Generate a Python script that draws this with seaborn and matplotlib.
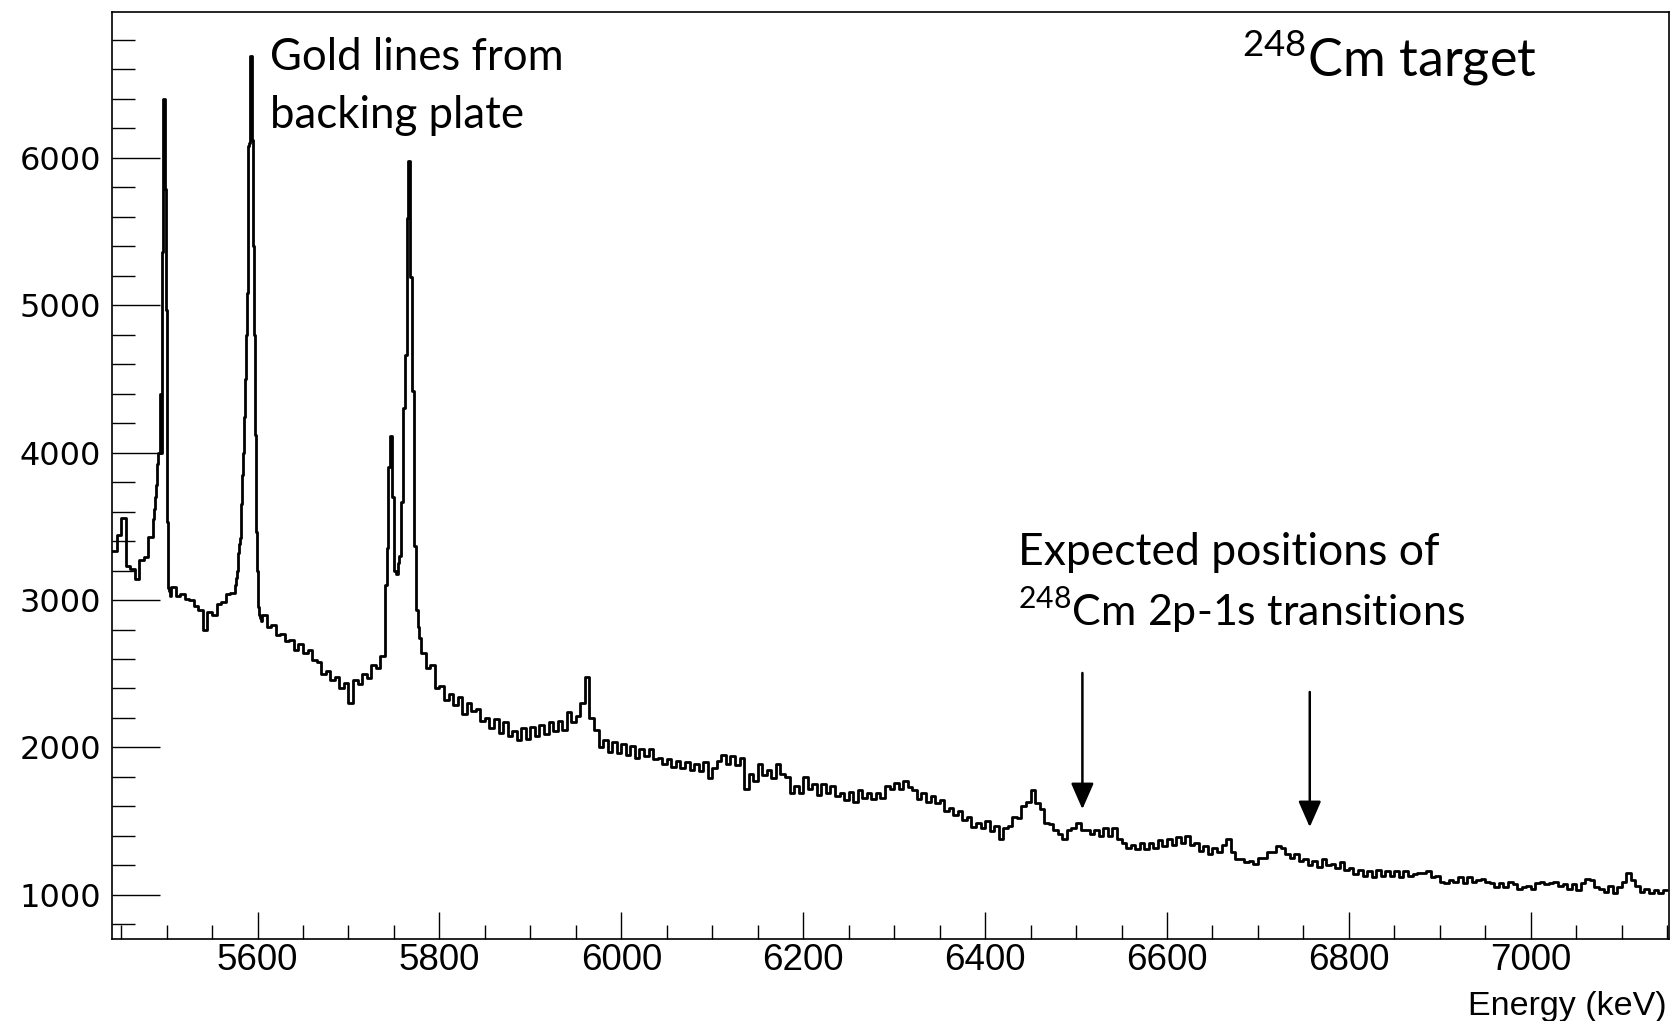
import numpy as np
import pandas as pd
import matplotlib
matplotlib.use("Agg")
import matplotlib.pyplot as plt
import seaborn as sns
from matplotlib import font_manager
from matplotlib.ticker import MultipleLocator, FixedLocator

# ---------------------------------------------------------------------------
# Spectrum data: counts per bin.  Bin widths are finer around the gold lines.
# Each segment: first bin edge (keV), bin width (keV), counts.
# ---------------------------------------------------------------------------
seg1_start, seg1_width = 5440, 5
seg1_counts = [3330, 3440, 3560, 3230, 3210, 3140, 3270, 3290, 3430]

seg2_start, seg2_width = 5485, 1
seg2_counts = [3550, 3620, 3700, 3780, 3850, 3920, 4000, 4000, 4400, 4000,
               5360, 6400, 6400, 5790, 4970, 4030, 3530, 3080, 3060, 3030]

seg3_start, seg3_width = 5505, 5
seg3_counts = [3090, 3030, 3040, 3010, 3000, 2960, 2930, 2800, 2920, 2900,
               2970, 2990, 3040, 3050]

seg4_start, seg4_width = 5575, 1
seg4_counts = [3100, 3150, 3200, 3260, 3320, 3380, 3420, 3650, 3850, 4000,
               4240, 4500, 4800, 5085, 5500, 6080, 6100, 6690, 6690, 6120,
               5400, 4800, 4120, 3465, 3200, 2955, 2950, 2900, 2880, 2860]

seg5_start, seg5_width = 5605, 5
seg5_counts = [2900, 2820, 2830, 2760, 2770, 2720, 2730, 2660, 2700, 2640,
               2660, 2590, 2580, 2500, 2520, 2460, 2480, 2400, 2440, 2300,
               2460, 2430, 2500, 2470, 2560, 2540, 2620]

seg6_start, seg6_width = 5740, 2
seg6_counts = [3100, 3350, 3900, 4110, 3700, 3200, 3180, 3250, 3300, 3665,
               4300, 4660, 5590, 5980, 5190, 4420, 3365, 2934, 2816, 2740]

seg7_start, seg7_width = 5780, 5
seg7_counts = [
    2640, 2540, 2560, 2400, 2420, 2320, 2360, 2290, 2340, 2230,
    2300, 2250, 2260, 2180, 2200, 2130, 2190, 2100, 2170, 2080,
    2110, 2050, 2130, 2060, 2140, 2080, 2150, 2090, 2170, 2110,
    2180, 2120, 2240, 2170, 2210, 2300, 2480, 2200, 2120, 2000,
    2050, 1970, 2040, 1960, 2020, 1950, 2010, 1930, 1990, 1940,
    1990, 1920, 1930, 1890, 1920, 1870, 1910, 1860, 1900, 1850,
    1890, 1840, 1900, 1790, 1860, 1910, 1950, 1890, 1940, 1880,
    1930, 1720, 1820, 1770, 1890, 1810, 1850, 1790, 1890, 1820,
    1800, 1690, 1740, 1690, 1800, 1720, 1750, 1680, 1750, 1690,
    1740, 1670, 1690, 1640, 1700, 1630, 1710, 1660, 1690, 1650,
    1690, 1660, 1740, 1720, 1760, 1720, 1770, 1730, 1710, 1650,
    1690, 1630, 1670, 1620, 1640, 1570, 1590, 1540, 1570, 1510,
    1530, 1460, 1490, 1450, 1500, 1430, 1470, 1380, 1450, 1470,
    1530, 1520, 1600, 1630, 1710, 1620, 1580, 1490, 1480, 1440,
    1410, 1380, 1440, 1450, 1490, 1440, 1440, 1410, 1440, 1400,
    1450, 1400, 1450, 1380, 1350, 1320, 1340, 1310, 1350, 1310,
    1350, 1320, 1370, 1330, 1380, 1340, 1390, 1350, 1400, 1340,
    1350, 1300, 1330, 1280, 1320, 1290, 1340, 1380, 1290, 1240,
    1240, 1220, 1230, 1210, 1250, 1250, 1290, 1290, 1330, 1320,
    1280, 1250, 1280, 1230, 1240, 1200, 1230, 1190, 1240, 1200,
    1210, 1180, 1220, 1170, 1180, 1140, 1170, 1130, 1160, 1120,
    1170, 1130, 1160, 1130, 1160, 1120, 1160, 1130, 1140, 1150,
    1150, 1160, 1120, 1130, 1090, 1080, 1100, 1090, 1120, 1080,
    1120, 1090, 1100, 1110, 1090, 1080, 1050, 1080, 1050, 1090,
    1070, 1040, 1050, 1060, 1040, 1080, 1090, 1070, 1080, 1090,
    1060, 1070, 1040, 1070, 1030, 1080, 1110, 1100, 1050, 1040,
    1020, 1060, 1010, 1050, 1090, 1150, 1100, 1060, 1020, 1040,
    1010, 1030, 1010, 1030,
]

# Marked energies of the expected 2p-1s lines and the arrow extents
arrow_energies = [6507, 6757]
arrow_tops = [2505, 2376]
arrow_tips = [1581, 1459]

x_ticks_major = [5600, 5800, 6000, 6200, 6400, 6600, 6800, 7000]
y_ticks_major = [1000, 2000, 3000, 4000, 5000, 6000]

segments = [
    (seg1_start, seg1_width, seg1_counts),
    (seg2_start, seg2_width, seg2_counts),
    (seg3_start, seg3_width, seg3_counts),
    (seg4_start, seg4_width, seg4_counts),
    (seg5_start, seg5_width, seg5_counts),
    (seg6_start, seg6_width, seg6_counts),
    (seg7_start, seg7_width, seg7_counts),
]

left_edges, counts = [], []
for start, width, vals in segments:
    left_edges.extend(start + width * np.arange(len(vals)))
    counts.extend(vals)
last_start, last_width, last_vals = segments[-1]
edges = np.append(np.asarray(left_edges, float),
                  last_start + last_width * len(last_vals))
# step outline: each bin value held from its left edge to the next edge
step_counts = np.append(np.asarray(counts, float), counts[-1])
spectrum = pd.DataFrame({"energy": edges, "counts": step_counts})


def available(family):
    try:
        font_manager.findfont(font_manager.FontProperties(family=family),
                              fallback_to_default=False)
        return True
    except Exception:
        return False


sns.set_theme(style="white")
plt.rcParams["font.family"] = ["DejaVu Sans"]
note_font = "Lato" if available("Lato") else "DejaVu Sans"
axis_font = "Liberation Sans" if available("Liberation Sans") else "DejaVu Sans"
plt.rcParams["mathtext.fontset"] = "custom"
plt.rcParams["mathtext.rm"] = note_font

W, H = 1672, 1021
fig = plt.figure(figsize=(W / 100, H / 100), dpi=100)
fig.patch.set_facecolor("white")

ax_l, ax_r, ax_t, ax_b = 112, 1669, 12, 939
ax = fig.add_axes([ax_l / W, 1 - ax_b / H, (ax_r - ax_l) / W, (ax_b - ax_t) / H])
ax.set_facecolor("white")

sns.lineplot(data=spectrum, x="energy", y="counts", drawstyle="steps-post",
             estimator=None, sort=False, color="black", linewidth=2.0, ax=ax)

ax.set_xlim(5440, 7152)
ax.set_ylim(700, 6990)
ax.set_ylabel("")
ax.set_xlabel("")

ax.xaxis.set_major_locator(FixedLocator(x_ticks_major))
ax.xaxis.set_minor_locator(MultipleLocator(50))
ax.yaxis.set_major_locator(FixedLocator(y_ticks_major))
ax.yaxis.set_minor_locator(MultipleLocator(200))

ax.tick_params(axis="both", which="both", direction="in", colors="black",
               bottom=True, left=True, top=False, right=False, width=1.0)
ax.tick_params(axis="y", which="major", length=34.5, pad=8, labelsize=23)
ax.tick_params(axis="y", which="minor", length=16.5)
ax.tick_params(axis="x", which="major", length=19.5, pad=3, labelsize=26.5)
ax.tick_params(axis="x", which="minor", length=10)
for lbl in ax.get_xticklabels():
    lbl.set_family(axis_font)

for spine in ax.spines.values():
    spine.set_visible(True)
    spine.set_color("black")
    spine.set_linewidth(1.2)

fig.text(1667 / W, 1 - 1015 / H, "Energy (keV)", ha="right", va="baseline",
         fontsize=24.5, family=axis_font, color="black")

# Annotations
fig.text(270 / W, 1 - 70 / H, "Gold lines from", ha="left", va="baseline",
         fontsize=31.5, family=note_font, color="black")
fig.text(270 / W, 1 - 128 / H, "backing plate", ha="left", va="baseline",
         fontsize=31.5, family=note_font, color="black")
fig.text(1242 / W, 1 - 77 / H, r"$^{248}$Cm target", ha="left", va="baseline",
         fontsize=37.5, family=note_font, color="black")
fig.text(1018 / W, 1 - 565 / H, "Expected positions of", ha="left",
         va="baseline", fontsize=32, family=note_font, color="black")
fig.text(1018 / W, 1 - 626 / H, r"$^{248}$Cm 2p-1s transitions", ha="left",
         va="baseline", fontsize=31, family=note_font, color="black")

for e, top, tip in zip(arrow_energies, arrow_tops, arrow_tips):
    ax.annotate("", xy=(e, tip), xytext=(e, top),
                arrowprops=dict(arrowstyle="-|>,head_length=0.8,head_width=0.35",
                                mutation_scale=20, lw=1.8, color="black",
                                shrinkA=0, shrinkB=0))

fig.savefig("out.png", dpi=100, facecolor="white")
